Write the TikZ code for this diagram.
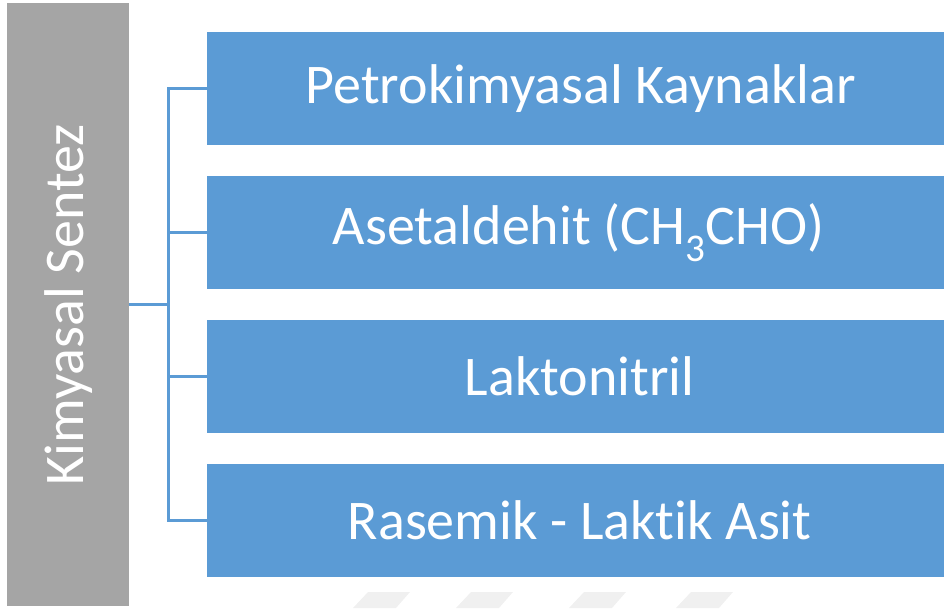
\documentclass[tikz,border=0pt]{standalone}
\usepackage{fontspec}
\setmainfont{Carlito}[Ligatures={NoCommon}]
\definecolor{boxblue}{HTML}{5B9BD5}
\definecolor{bargray}{HTML}{A5A5A5}
\definecolor{wm}{HTML}{F0F0F0}
\begin{document}
\begin{tikzpicture}[x=1pt,y=-1pt,
  item/.style={fill=boxblue,draw=none,minimum width=737pt,minimum height=113pt,anchor=north west,inner sep=0pt,text=white,font=\fontsize{56}{60}\selectfont},
  bar/.style={fill=bargray,draw=none,minimum width=122pt,minimum height=603pt,anchor=north west,inner sep=0pt},
  link/.style={draw=boxblue,line width=3pt}]
\useasboundingbox (0,0) rectangle (944,608);
\foreach \xx in {353,456,569,676}{
  \fill[wm] (\xx,608) -- (\xx+15,592) -- (\xx+57,592) -- (\xx+43,608) -- cycle;
}
\node[bar] (main) at (7,3) {};
\node[text=white,rotate=90,font=\fontsize{56}{60}\selectfont] (mt) at (main.center) {Kimyasal Sentez};
\node[item] (b1) at (207,32) {\hspace*{10pt}Petrokimyasal Kaynaklar};
\node[item] (b2) at (207,176) {\hspace*{6pt}Asetaldehit (CH\textsubscript{3}CHO)};
\node[item] (b3) at (207,320) {\hspace*{8pt}Laktonitril};
\node[item] (b4) at (207,464) {\hspace*{8pt}Rasemik - Laktik Asit};
\coordinate (j) at (168,304);
\draw[link] (main.east |- j) -- (j);
\draw[link] (b1.west) -| (j);
\draw[link] (b4.west) -| (j);
\draw[link] (b2.west) -- (b2.west -| j);
\draw[link] (b3.west) -- (b3.west -| j);
\end{tikzpicture}
\end{document}
